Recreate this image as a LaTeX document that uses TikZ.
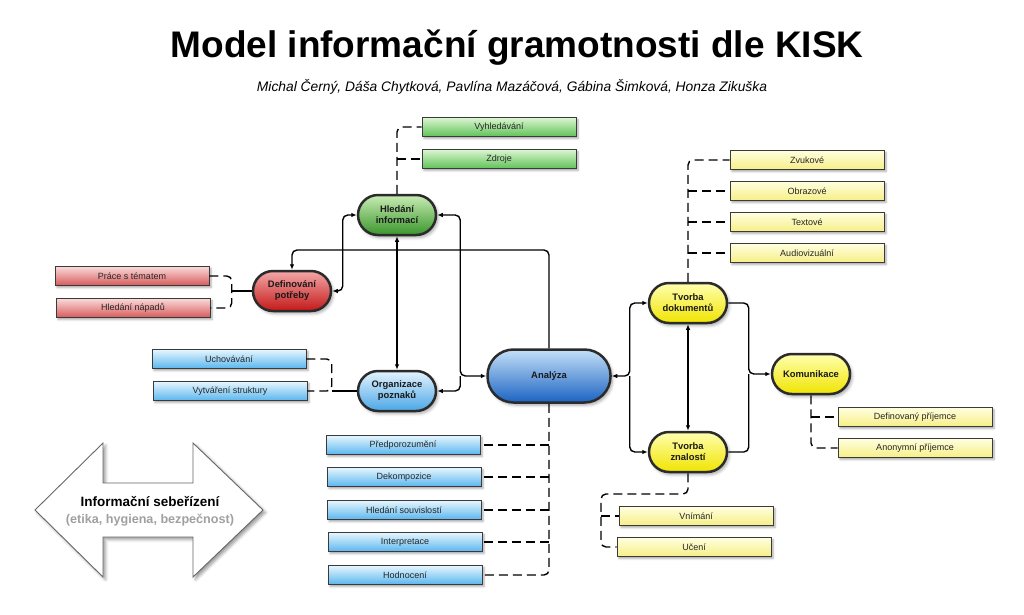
\documentclass[tikz,border=0pt]{standalone}
\usepackage{fontspec}
\setmainfont{Liberation Sans}
\usetikzlibrary{arrows.meta,shadows.blur,calc}
\definecolor{hubline}{HTML}{2B2B2B}
\definecolor{boxline}{HTML}{3A3A3A}
\definecolor{GHt}{HTML}{C8ECB4}\definecolor{GHb}{HTML}{3A962C}
\definecolor{GBt}{HTML}{DCF5D2}\definecolor{GBb}{HTML}{5FC257}
\definecolor{RHt}{HTML}{F4A8A8}\definecolor{RHb}{HTML}{C41818}
\definecolor{RBt}{HTML}{FBDADA}\definecolor{RBb}{HTML}{D65A5A}
\definecolor{BHt}{HTML}{E4F4FE}\definecolor{BHb}{HTML}{4AA6E6}
\definecolor{BBt}{HTML}{E6F6FE}\definecolor{BBb}{HTML}{5AB6EE}
\definecolor{AHt}{HTML}{C4E0F8}\definecolor{AHb}{HTML}{1B63C2}
\definecolor{YHt}{HTML}{FFFFB0}\definecolor{YHb}{HTML}{F0E400}
\definecolor{YBt}{HTML}{FFFFE0}\definecolor{YBb}{HTML}{F6EF86}
\definecolor{graytxt}{HTML}{A0A0A0}
\begin{document}
\begin{tikzpicture}[x=1pt,y=-1pt,
  >={Latex[length=5.5pt,width=4.5pt]},
  hub/.style={rectangle, rounded corners=20pt, minimum width=78pt, minimum height=40pt,
    inner sep=0pt, draw=hubline, line width=2.5pt, align=center,
    font=\fontsize{9.4}{11}\selectfont\bfseries, text=black!90,
    blur shadow={shadow xshift=2pt, shadow yshift=-2.5pt, shadow blur radius=3pt, shadow opacity=35}},
  box/.style={rectangle, minimum width=154pt, minimum height=19pt, inner sep=0pt,
    draw=boxline, line width=0.9pt, font=\fontsize{9}{10}\selectfont, text=black!85,
    blur shadow={shadow xshift=2pt, shadow yshift=-2pt, shadow blur radius=2pt, shadow opacity=35}},
  hubgreen/.style={hub, top color=GHt, bottom color=GHb},
  hubred/.style={hub, top color=RHt, bottom color=RHb},
  hubblue/.style={hub, top color=BHt, bottom color=BHb},
  hubana/.style={hub, top color=AHt, bottom color=AHb, minimum width=123pt, minimum height=53pt, rounded corners=26pt},
  hubyellow/.style={hub, top color=YHt, bottom color=YHb},
  boxgreen/.style={box, top color=GBt, bottom color=GBb},
  boxred/.style={box, top color=RBt, bottom color=RBb},
  boxblue/.style={box, top color=BBt, bottom color=BBb},
  boxyellow/.style={box, top color=YBt, bottom color=YBb},
  conn/.style={line width=1.4pt, draw=black, rounded corners=5pt},
  dline/.style={line width=1.4pt, draw=black, dash pattern=on 9pt off 5pt, rounded corners=5pt},
  arrowshape/.style={draw=black!60, line width=0.9pt, fill=white,
    blur shadow={shadow xshift=2.5pt, shadow yshift=-2.5pt, shadow blur radius=3pt, shadow opacity=40}}
]
\useasboundingbox (0,0) rectangle (1024,614);

% title
\node[anchor=base, font=\fontsize{37}{40}\selectfont\bfseries] (title) at (517,57) {Model informační gramotnosti dle KISK};
\node[anchor=base, font=\fontsize{13.8}{15}\selectfont\itshape] (authors) at (512,91) {Michal Černý, Dáša Chytková, Pavlína Mazáčová, Gábina Šimková, Honza Zikuška};

% big arrow
\draw[arrowshape] (35,510) -- (103,443) -- (103,483) -- (193,483) -- (193,443) -- (263,510)
  -- (193,577) -- (193,537) -- (103,537) -- (103,577) -- cycle;
\node[align=center, font=\fontsize{13.5}{17}\selectfont\bfseries] (sr) at (150,511)
  {Informační sebeřízení\\\textcolor{graytxt}{\fontsize{12.6}{17}\selectfont(etika, hygiena, bezpečnost)}};

% hubs
\node[hubgreen] (hi) at (397,215) {Hledání\\informací};
\node[hubred] (dp) at (292,291) {Definování\\potřeby};
\node[hubblue] (op) at (397,391) {Organizace\\poznaků};
\node[hubana] (an) at (549,376) {Analýza};
\node[hubyellow] (td) at (688,303) {Tvorba\\dokumentů};
\node[hubyellow] (tz) at (688,452) {Tvorba\\znalostí};
\node[hubyellow] (ko) at (811,374) {Komunikace};

% boxes
\node[boxgreen] (vy) at (499,127) {Vyhledávání};
\node[boxgreen] (zd) at (499,159) {Zdroje};
\node[boxred] (pt) at (132,276) {Práce s tématem};
\node[boxred] (hn) at (133,308) {Hledání nápadů};
\node[boxblue] (uc) at (229,359) {Uchovávání};
\node[boxblue] (vs) at (230,391) {Vytváření struktury};
\node[boxblue] (pr) at (403,445) {Předporozumění};
\node[boxblue] (de) at (404,477) {Dekompozice};
\node[boxblue] (hs) at (404,510) {Hledání souvislostí};
\node[boxblue] (ip) at (405,542) {Interpretace};
\node[boxblue] (ho) at (405,575) {Hodnocení};
\node[boxyellow] (zv) at (807,160) {Zvukové};
\node[boxyellow] (ob) at (807,191) {Obrazové};
\node[boxyellow] (tx) at (807,222) {Textové};
\node[boxyellow] (av) at (807,253) {Audiovizuální};
\node[boxyellow] (dpr) at (915,417) {Definovaný příjemce};
\node[boxyellow] (apr) at (915,448) {Anonymní příjemce};
\node[boxyellow] (vn) at (696,516) {Vnímání};
\node[boxyellow] (ue) at (694,547) {Učení};

% solid connectors
\draw[conn,<->] (hi.south) -- (op.north);
\draw[conn,<->] (td.south) -- (tz.north);
\coordinate (topbar) at (0,250);
\draw[conn,->] (an.north) -- (an.north |- topbar) -| (dp.north);
\draw[conn,<->] (dp.east) -| ([xshift=-14pt]hi.west) -- (hi.west);
\coordinate (aw) at ([xshift=-26pt]an.west);
\draw[conn,<->] (hi.east) -| (aw) -- (an.west);
\draw[conn,->] (aw) |- (op.east);
\coordinate (ae) at ([xshift=18pt]an.east);
\draw[conn,<->] (an.east) -- (ae) |- (td.west);
\draw[conn,->] (ae) |- (tz.west);
\coordinate (kw) at ([xshift=-22pt]ko.west);
\draw[conn,->] (td.east) -| (kw) -- (ko.west);
\draw[conn] (tz.east) -| (kw);

% dashed connectors
\draw[dline] (hi.north) |- (vy.west);
\draw[dline] (hi.north |- zd.west) -- (zd.west);

\coordinate (dj) at ([xshift=-20pt]dp.west);
\draw[conn] (dp.west) -- (dj);
\draw[dline] (pt.east) -| (dj) |- (hn.east);

\coordinate (oj) at ([xshift=-25pt]op.west);
\draw[conn] (op.west) -- (oj);
\draw[dline] (uc.east) -| (oj) -- (vs.east);

\draw[dline] (an.south) |- (ho.east);
\foreach \b in {pr,de,hs,ip} \draw[dline] (an.south |- \b.east) -- (\b.east);

\draw[dline] (td.north) |- (zv.west);
\foreach \b in {ob,tx,av} \draw[dline] (td.north |- \b.west) -- (\b.west);

\draw[dline] (ko.south) |- (apr.west);
\draw[dline] (ko.south |- dpr.west) -- (dpr.west);

\coordinate (zj) at (601,494);
\draw[dline] (tz.south) |- (zj) |- (ue.west);
\draw[dline] (zj |- vn.west) -- (vn.west);
\end{tikzpicture}
\end{document}
